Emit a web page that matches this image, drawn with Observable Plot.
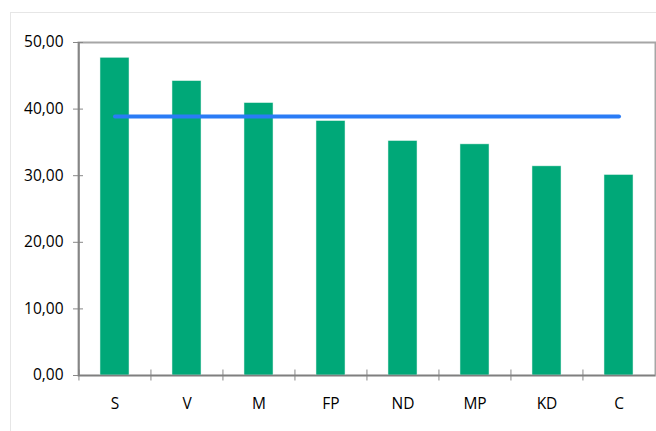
<!DOCTYPE html>
<html>
<head>
<meta charset="utf-8">
<script src="https://cdn.jsdelivr.net/npm/d3@7"></script>
<script src="https://cdn.jsdelivr.net/npm/@observablehq/plot@0.6"></script>
<style>
  html, body { margin: 0; padding: 0; background: #fff; }
  #wrap { position: relative; width: 656px; height: 431px; overflow: hidden; }
  #outer { position: absolute; left: 10px; top: 12px; width: 700px; height: 500px;
           border-left: 1px solid #e6e6e6; border-top: 1px solid #e6e6e6; }
  #chart { position: absolute; left: 0; top: 0; }
</style>
</head>
<body>
<div id="wrap"><div id="outer"></div><div id="chart"></div></div>
<script>
const categories = ["S", "V", "M", "FP", "ND", "MP", "KD", "C"];
const values = [47.7, 44.2, 40.9, 38.2, 35.2, 34.7, 31.4, 30.1];
const average = 38.9;
const yTicks = [0, 10, 20, 30, 40, 50];

const bars = categories.map((c, i) => ({cat: c, value: values[i]}));
const avgLine = categories.map(c => ({cat: c, value: average}));
const fmt = d => d3.format(".2f")(d).replace(".", ",");

const chart = Plot.plot({
  width: 656,
  height: 431,
  marginLeft: 78,
  marginRight: 1,
  marginTop: 42,
  marginBottom: 56,
  style: {fontFamily: "'Open Sans', sans-serif", fontSize: "15.5px", color: "#000", background: "transparent"},
  x: {domain: categories, paddingInner: 0.6, paddingOuter: 0.3, label: null},
  y: {domain: [0, 50], label: null},
  marks: [
    Plot.frame({stroke: "#a6a6a6", strokeWidth: 2}),
    Plot.barY(bars, {x: "cat", y: "value", fill: "#00a878", stroke: "#dff3ec", strokeWidth: 0.5}),
    Plot.lineY(avgLine, {x: "cat", y: "value", stroke: "#2a7cf6", strokeWidth: 4}),
    Plot.axisY({ticks: yTicks, tickSize: 10, dx: 5, text: null, stroke: "#888", strokeWidth: 1}),
    Plot.axisY({ticks: yTicks, tickSize: 0, tickPadding: 15, tickFormat: fmt, fill: "#000", fontSize: 15.5}),
    Plot.axisX({tickSize: 11, dx: -36.06, dy: -5.5, text: null, stroke: "#888", strokeWidth: 1}),
    Plot.axisX({tickSize: 0, tickPadding: 22, fill: "#000", fontSize: 15.5}),
    Plot.ruleX([categories[0]], {x: d => d, dx: -36.06, stroke: "#7f7f7f", strokeWidth: 1.5}),
    Plot.ruleY([0], {stroke: "#7f7f7f", strokeWidth: 1.5})
  ]
});
document.getElementById("chart").appendChild(chart);
</script>
</body>
</html>
